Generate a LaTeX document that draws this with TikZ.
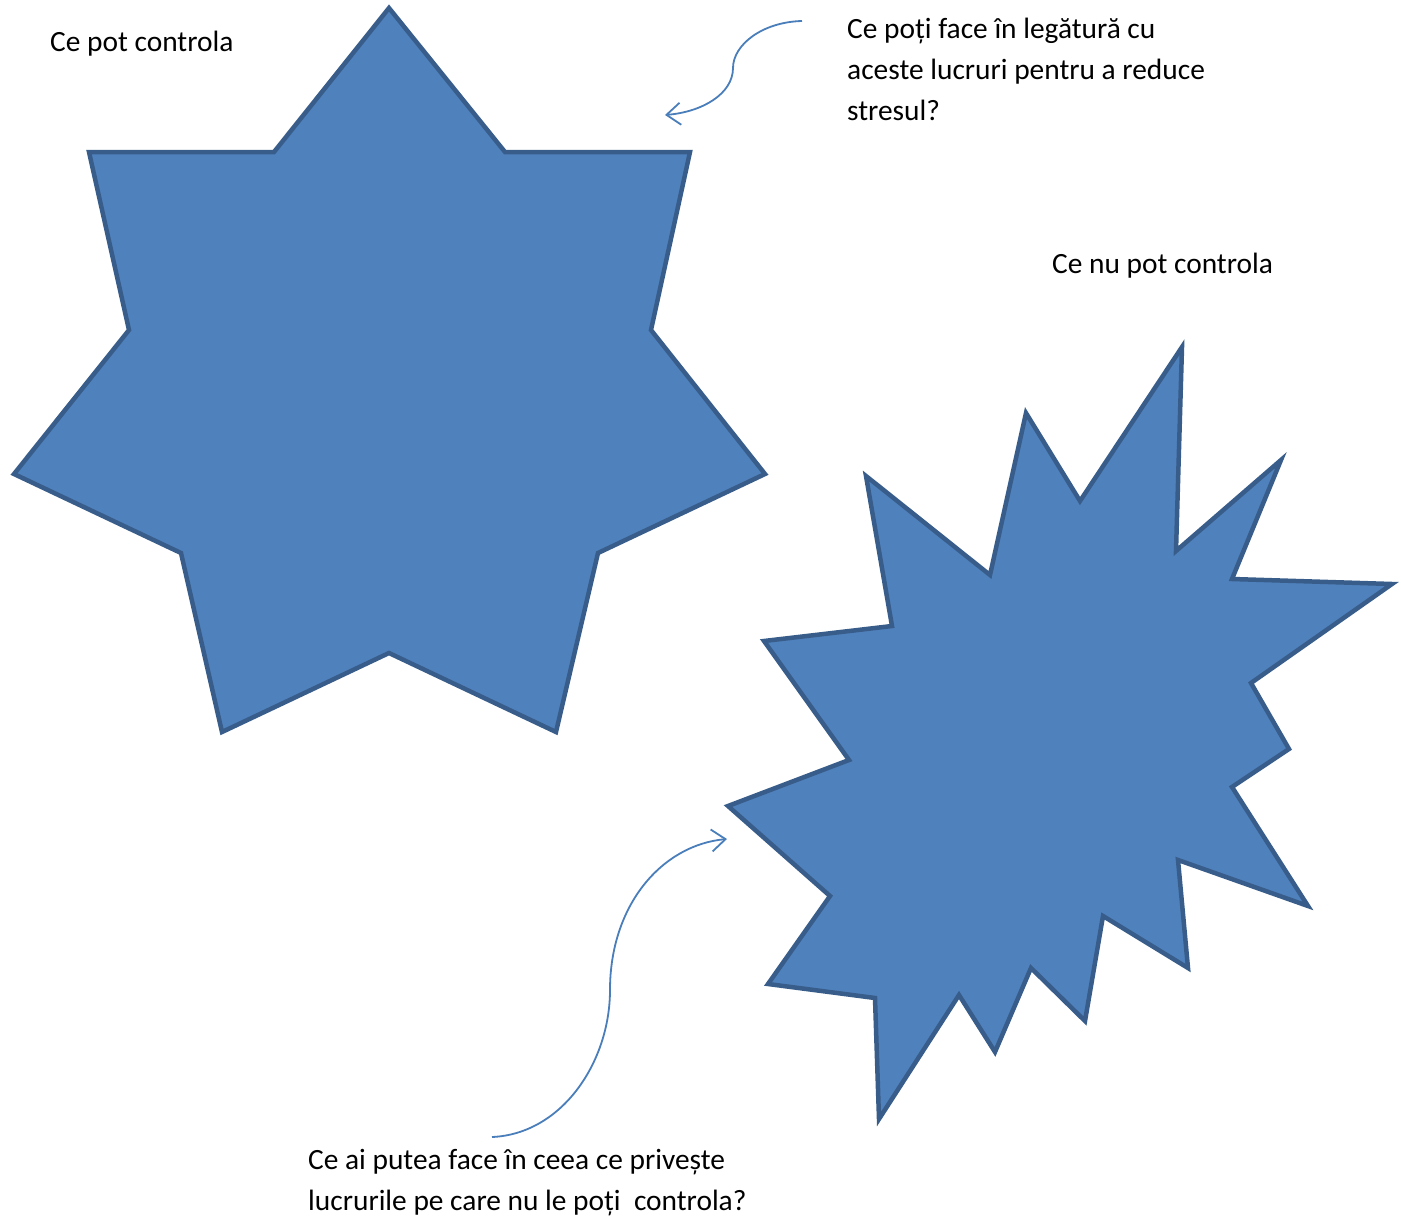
\documentclass[tikz,border=0pt]{standalone}
\usepackage{fontspec}
\setmainfont{Carlito}
\usetikzlibrary{arrows.meta}
\definecolor{starfill}{HTML}{4F81BD}
\definecolor{starline}{HTML}{385D8A}
\definecolor{arrowline}{HTML}{4A7EBB}
\begin{document}
\begin{tikzpicture}[x=1pt,y=-1pt,
  starshape/.style={fill=starfill, draw=starline, line width=4.5pt, line join=miter},
  txt/.style={font=\fontsize{29.4}{41}\selectfont, inner sep=0pt, anchor=base west, align=left},
  arrowcurve/.style={draw=arrowline, line width=1.8pt, -{Straight Barb[length=14pt,width=22pt]}}]
\useasboundingbox (0,0) rectangle (1401,1218);
% six-pointed star
\path[starshape] (389,8) -- (505,152) -- (690,152) -- (651,330) -- (765,474) -- (598,553)
  -- (556,732) -- (389,653) -- (222,732) -- (181,553) -- (14,474) -- (129,330)
  -- (89,152) -- (274,152) -- cycle;
% explosion
\path[starshape] (866,476) -- (990,575) -- (1026,413) -- (1080,501) -- (1182,347)
  -- (1176,551) -- (1281,460) -- (1232,579) -- (1392,584) -- (1251,683) -- (1289,749)
  -- (1232,787) -- (1308,906) -- (1178,860) -- (1188,968) -- (1103,916) -- (1085,1021)
  -- (1031,968) -- (995,1052) -- (959,995) -- (879,1119) -- (875,998) -- (768,984)
  -- (830,896) -- (728,806) -- (849,760) -- (764,641) -- (892,626) -- cycle;
% texts (base anchor = baseline of the last line)
\node[txt] (t1) at (50,51) {Ce pot controla};
\node[txt] (t2) at (847,120) {Ce poți face în legătură cu\\aceste lucruri pentru a reduce\\stresul?};
\node[txt] (t3) at (1052,273) {Ce nu pot controla};
\node[txt] (t4) at (308,1210) {Ce ai putea face în ceea ce privește\\lucrurile pe care nu le poți\ \ controla?};
% arrows
\coordinate (a1s) at (802,21);
\coordinate (a1e) at (665,115);
\coordinate (a2s) at (492,1137);
\coordinate (a2e) at (727,839);
\draw[arrowcurve] (a1s) .. controls (762,22) and (733,45) .. (733,68)
  .. controls (733,94) and (702,112) .. (a1e);
\draw[arrowcurve] (a2s) .. controls (562,1134) and (610,1062) .. (610,990)
  .. controls (610,905) and (662,845) .. (a2e);
\end{tikzpicture}
\end{document}
